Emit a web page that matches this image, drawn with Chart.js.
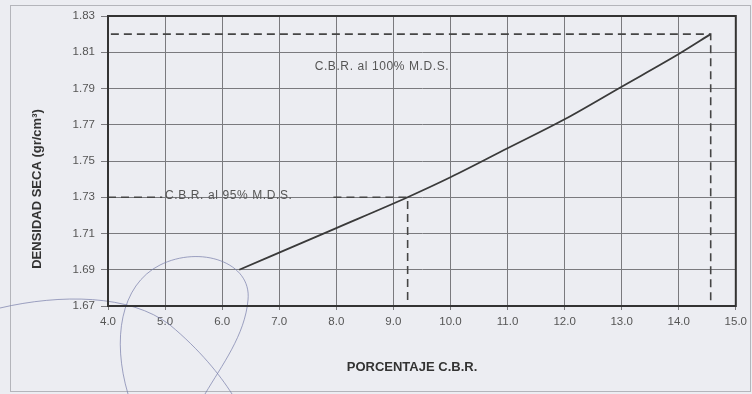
<!DOCTYPE html>
<html lang="es">
<head>
    <meta charset="UTF-8">
    <title>Curva C.B.R. - Densidad Seca</title>
    <script src="https://cdn.jsdelivr.net/npm/chart.js"></script>
    <style>
        html, body { margin: 0; padding: 0; background: #ecedf2; }
        #wrap { width: 752px; height: 394px; }
    </style>
</head>
<body>
    <div id="wrap"><canvas id="cbrChart" width="752" height="394"></canvas></div>

    <script>
        // datos
        const porcentajeCBR = [6.3, 8.0, 9.25, 10.0, 11.0, 12.0, 13.0, 14.0, 14.56];
        const densidadSeca = [1.690, 1.713, 1.730, 1.741, 1.757, 1.773, 1.791, 1.809, 1.820];

        const xTicks = [4.0, 5.0, 6.0, 7.0, 8.0, 9.0, 10.0, 11.0, 12.0, 13.0, 14.0, 15.0];
        const yTicks = [1.67, 1.69, 1.71, 1.73, 1.75, 1.77, 1.79, 1.81, 1.83];

        // lineas de referencia (discontinuas)
        const cbr100X = [4.05, 14.56, 14.56];
        const cbr100Y = [1.82, 1.82, 1.67];
        const cbr95aX = [4.0, 4.95];
        const cbr95aY = [1.73, 1.73];
        const cbr95bX = [7.95, 9.25, 9.25];
        const cbr95bY = [1.73, 1.73, 1.67];

        const etiquetas = ['C.B.R. al 100% M.D.S.', 'C.B.R. al 95% M.D.S.'];
        const etiquetasX = [8.8, 5.0];
        const etiquetasY = [1.802, 1.731];

        const puntos = (xs, ys) => xs.map((x, i) => ({ x: x, y: ys[i] }));

        function lineaDiscontinua(xs, ys) {
            return {
                data: puntos(xs, ys),
                showLine: true,
                borderColor: '#454545',
                borderWidth: 1.6,
                borderDash: [8, 5],
                pointRadius: 0,
                fill: false
            };
        }

        const fuente = '"Liberation Sans", Arial, sans-serif';

        const textos = {
            id: 'textos',
            beforeDraw(chart) {
                const ctx = chart.ctx;
                ctx.save();
                ctx.fillStyle = '#ecedf2';
                ctx.fillRect(0, 0, chart.width, chart.height);
                // marco exterior
                ctx.strokeStyle = '#b4b5bb';
                ctx.lineWidth = 1;
                ctx.strokeRect(10.5, 5.5, 740, 386);
                ctx.restore();
            },
            afterDatasetsDraw(chart) {
                const ctx = chart.ctx;
                const xs = chart.scales.x;
                const ys = chart.scales.y;
                ctx.save();
                ctx.fillStyle = '#555';
                ctx.font = '12px ' + fuente;
                ctx.letterSpacing = '0.6px';
                ctx.textBaseline = 'middle';
                ctx.textAlign = 'center';
                ctx.fillText(etiquetas[0], xs.getPixelForValue(etiquetasX[0]), ys.getPixelForValue(etiquetasY[0]));
                ctx.textAlign = 'left';
                ctx.fillText(etiquetas[1], xs.getPixelForValue(etiquetasX[1]), ys.getPixelForValue(etiquetasY[1]));

                // titulos de ejes
                ctx.fillStyle = '#333';
                ctx.letterSpacing = '0px';
                ctx.font = 'bold 13px ' + fuente;
                ctx.textAlign = 'center';
                ctx.fillText('PORCENTAJE C.B.R.', 412, 367);
                ctx.translate(37, 189);
                ctx.rotate(-Math.PI / 2);
                ctx.fillText('DENSIDAD SECA (gr/cm³)', 0, 0);
                ctx.restore();

                // trazo del sello
                ctx.save();
                ctx.strokeStyle = 'rgba(120,126,170,0.7)';
                ctx.lineWidth = 1;
                ctx.beginPath();
                ctx.moveTo(0, 308);
                ctx.bezierCurveTo(60, 294, 130, 294, 170, 325);
                ctx.bezierCurveTo(200, 350, 220, 375, 232, 394);
                ctx.stroke();
                ctx.beginPath();
                ctx.moveTo(128, 394);
                ctx.bezierCurveTo(112, 340, 120, 285, 160, 265);
                ctx.bezierCurveTo(200, 245, 252, 262, 248, 300);
                ctx.bezierCurveTo(245, 335, 222, 365, 205, 394);
                ctx.stroke();
                ctx.restore();
            }
        };

        new Chart(document.getElementById('cbrChart').getContext('2d'), {
            type: 'scatter',
            data: {
                datasets: [
                    {
                        data: puntos(porcentajeCBR, densidadSeca),
                        showLine: true,
                        borderColor: '#3a3a3a',
                        borderWidth: 1.8,
                        pointRadius: 0,
                        cubicInterpolationMode: 'monotone',
                        fill: false
                    },
                    lineaDiscontinua(cbr100X, cbr100Y),
                    lineaDiscontinua(cbr95aX, cbr95aY),
                    lineaDiscontinua(cbr95bX, cbr95bY)
                ]
            },
            options: {
                responsive: false,
                animation: false,
                layout: { padding: { top: 16, right: 15, left: 0, bottom: 0 } },
                plugins: {
                    legend: { display: false },
                    tooltip: { enabled: false }
                },
                scales: {
                    x: {
                        type: 'linear',
                        min: 4,
                        max: 15,
                        afterBuildTicks: (s) => { s.ticks = xTicks.map(v => ({ value: v })); },
                        afterFit: (s) => { s.height = 88; },
                        ticks: {
                            callback: v => v.toFixed(1),
                            color: '#555',
                            font: { family: fuente, size: 11.5 },
                            padding: 5,
                            maxRotation: 0
                        },
                        grid: { color: '#7a7a7e', lineWidth: 1, tickLength: 4 },
                        border: { color: '#333', width: 2 }
                    },
                    y: {
                        type: 'linear',
                        min: 1.67,
                        max: 1.83,
                        afterBuildTicks: (s) => { s.ticks = yTicks.map(v => ({ value: v })); },
                        afterFit: (s) => { s.width = 108; },
                        ticks: {
                            callback: v => v.toFixed(2),
                            color: '#555',
                            font: { family: fuente, size: 11.5 },
                            padding: 6
                        },
                        grid: { color: '#7a7a7e', lineWidth: 1, tickLength: 7 },
                        border: { color: '#333', width: 2 }
                    }
                }
            },
            plugins: [textos, {
                id: 'marco',
                afterDraw(chart) {
                    const a = chart.chartArea;
                    const ctx = chart.ctx;
                    ctx.save();
                    ctx.strokeStyle = '#333';
                    ctx.lineWidth = 2;
                    ctx.strokeRect(a.left, a.top, a.right - a.left, a.bottom - a.top);
                    ctx.restore();
                }
            }]
        });
    </script>
</body>
</html>
